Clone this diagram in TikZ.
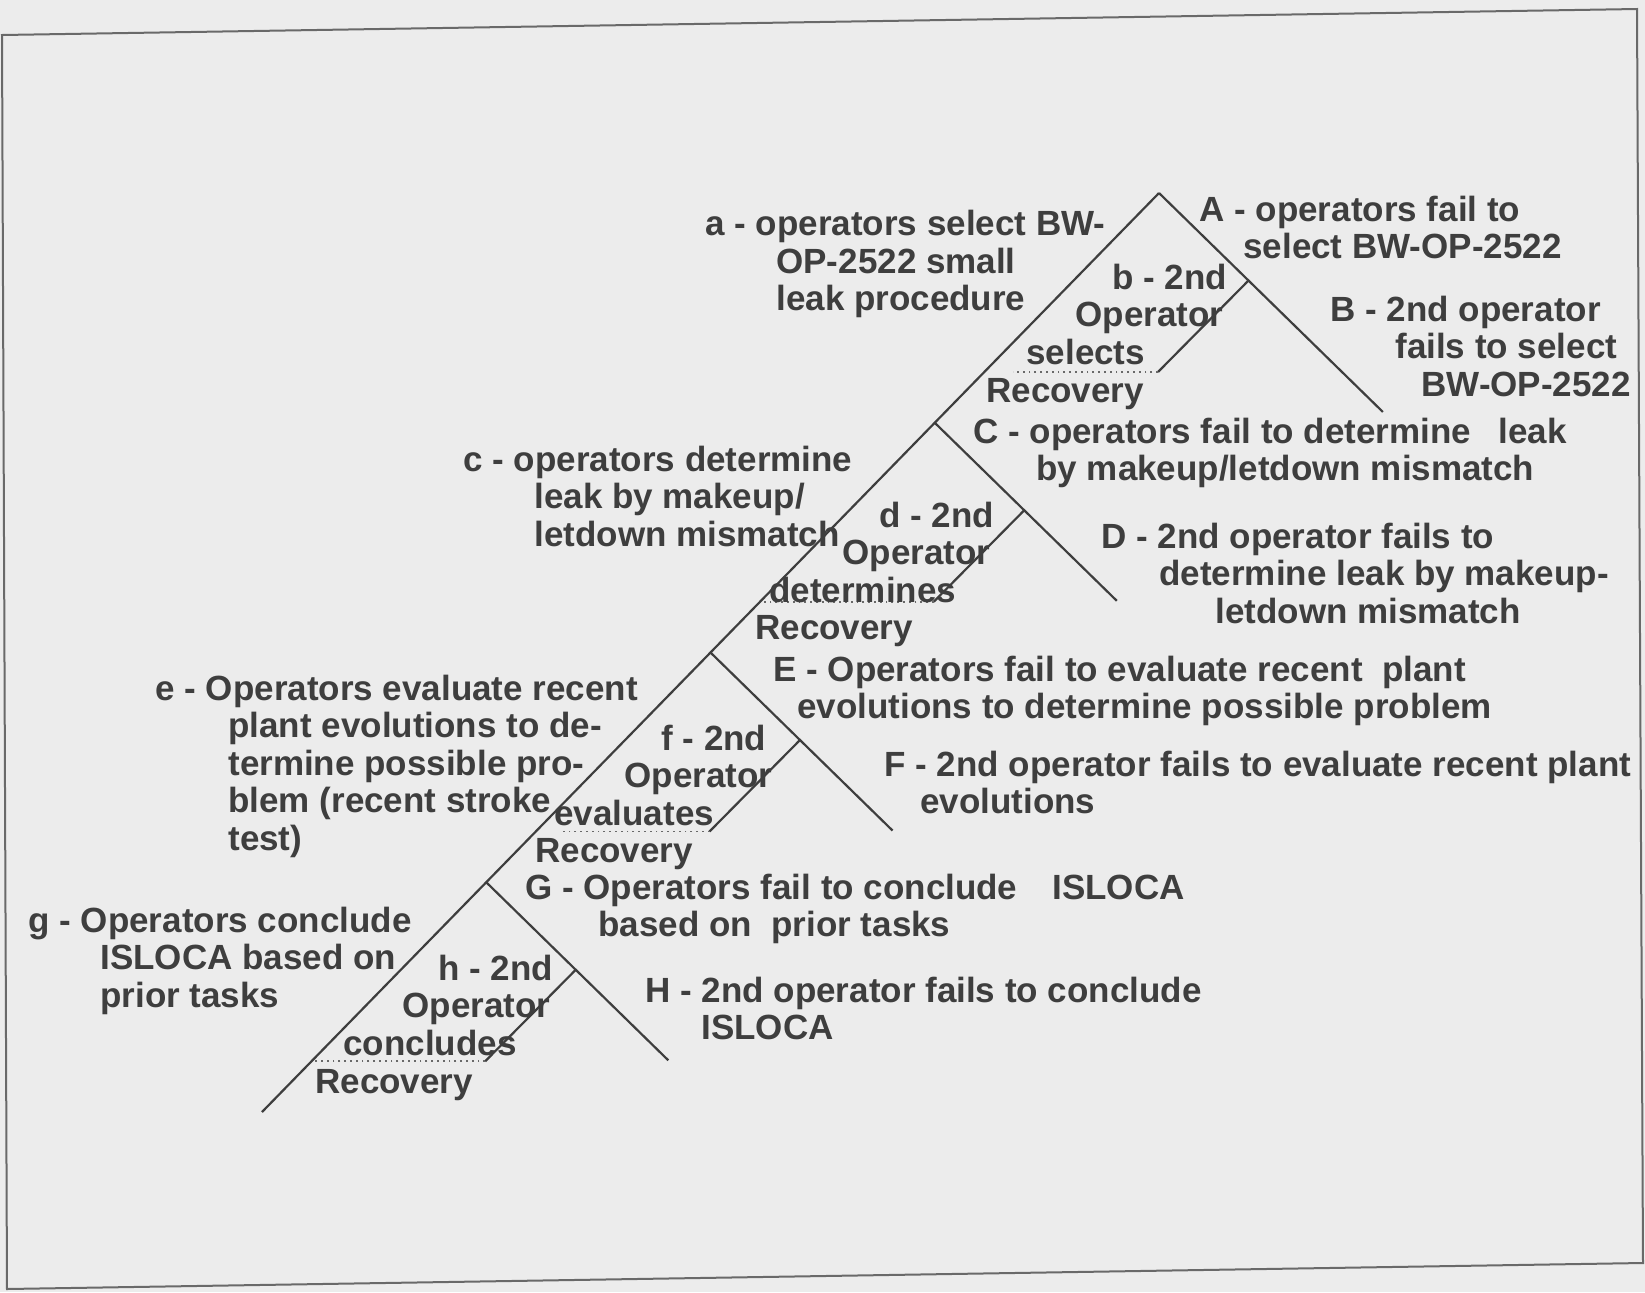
\documentclass[tikz,border=0pt]{standalone}
\usepackage{fontspec}
\setmainfont{Liberation Sans}
\usetikzlibrary{calc}

\newlength\pxu \setlength\pxu{0.5pt}
\newcommand{\ind}[1]{\hspace*{#1\pxu}}
\definecolor{paper}{RGB}{236,236,236}
\definecolor{ink}{RGB}{62,62,62}
\definecolor{rule}{RGB}{105,105,105}

\begin{document}
\begin{tikzpicture}[x=0.5pt, y=-0.5pt,
    lbl/.style={anchor=north west, inner sep=0pt, align=left, text=ink,
        font=\fontsize{17.5pt}{18.75pt}\selectfont\bfseries},
    branch/.style={draw=ink, line width=1.1pt},
    recov/.style={draw=rule, dotted, line width=0.9pt}]

    % page and frame
    \fill[paper] (0,0) rectangle (1645,1292);
    \useasboundingbox (0,0) rectangle (1645,1292);
    \draw[rule, line width=1pt] (2,35) -- (1637,9) -- (1643,1263) -- (7,1289) -- cycle;

    % main success path
    \coordinate (top) at (1159,193);
    \coordinate (bot) at (262,1112);
    \draw[branch] (top) -- (bot);

    % failure and recovery branches
    \foreach \k/\len/\dl in {0/1.23/145, 1/1/173, 2/1/149, 3/1/171} {
        \coordinate (p\k) at ($(top)!\k*0.25!(bot)$);
        \coordinate (f\k) at ($(p\k)+(\len*182,\len*178)$);
        \coordinate (s\k) at ($(p\k)+(89,88)$);
        \coordinate (r\k) at ($(s\k)+(-90,91)$);
        \coordinate (q\k) at ($(r\k)-(\dl,0)$);
        \draw[branch] (p\k) -- (f\k);
        \draw[branch] (s\k) -- (r\k);
        \draw[recov] (r\k) -- (q\k);
    }

    % success labels
    \node[lbl] (opa) at (705,210) {a - operators select BW-\\\ind{71}OP-2522 small\\\ind{71}leak procedure};
    \node[lbl] (opc) at (463,445.5) {c - operators determine\\\ind{71}leak by makeup/\\\ind{71}letdown mismatch};
    \node[lbl] (ope) at (155,674.5) {e - Operators evaluate recent\\\ind{73}plant evolutions to de-\\\ind{73}termine possible pro-\\\ind{73}blem (recent stroke\\\ind{73}test)};
    \node[lbl] (opg) at (28,906.5) {g - Operators conclude\\\ind{72}ISLOCA based on\\\ind{72}prior tasks};

    % second operator
    \node[lbl] (opb) at (1026,263.5) {\ind{86}b - 2nd\\\ind{49}Operator\\selects};
    \node[lbl] (opd) at (769,501.5) {\ind{110}d - 2nd\\\ind{73}Operator\\determines};
    \node[lbl] (opf) at (554,724.5) {\ind{107}f - 2nd\\\ind{70}Operator\\evaluates};
    \node[lbl] (oph) at (343,954.5) {\ind{95}h - 2nd\\\ind{59}Operator\\concludes};
    \node[lbl] (recb) at (986,378.5) {Recovery};
    \node[lbl] (recd) at (755,615.5) {Recovery};
    \node[lbl] (recf) at (535,838.5) {Recovery};
    \node[lbl] (rech) at (315,1069.5) {Recovery};

    % failure labels
    \node[lbl] (opA) at (1199,195.5) {A - operators fail to\\\ind{44}select BW-OP-2522};
    \node[lbl] (opB) at (1330,295.5) {B - 2nd operator\\\ind{65}fails to select\\\ind{91}BW-OP-2522};
    \node[lbl] (opC) at (973,417.5) {C - operators fail to determine\hspace{0.5em} leak\\\ind{63}by makeup/letdown mismatch};
    \node[lbl] (opD) at (1101,522.5) {D - 2nd operator fails to\\\ind{58}determine leak by makeup-\\\ind{114}letdown mismatch};
    \node[lbl] (opE) at (773,655.5) {E - Operators fail to evaluate recent\ \ plant\\\ind{24}evolutions to determine possible problem};
    \node[lbl] (opF) at (884,750.5) {F - 2nd operator fails to evaluate recent plant\\\ind{36}evolutions};
    \node[lbl] (opG) at (525,873.5) {G - Operators fail to conclude\hspace{1em}ISLOCA\\\ind{73}based on\ \ prior tasks};
    \node[lbl] (opH) at (645,976.5) {H - 2nd operator fails to conclude\\\ind{56}ISLOCA};

\end{tikzpicture}
\end{document}
